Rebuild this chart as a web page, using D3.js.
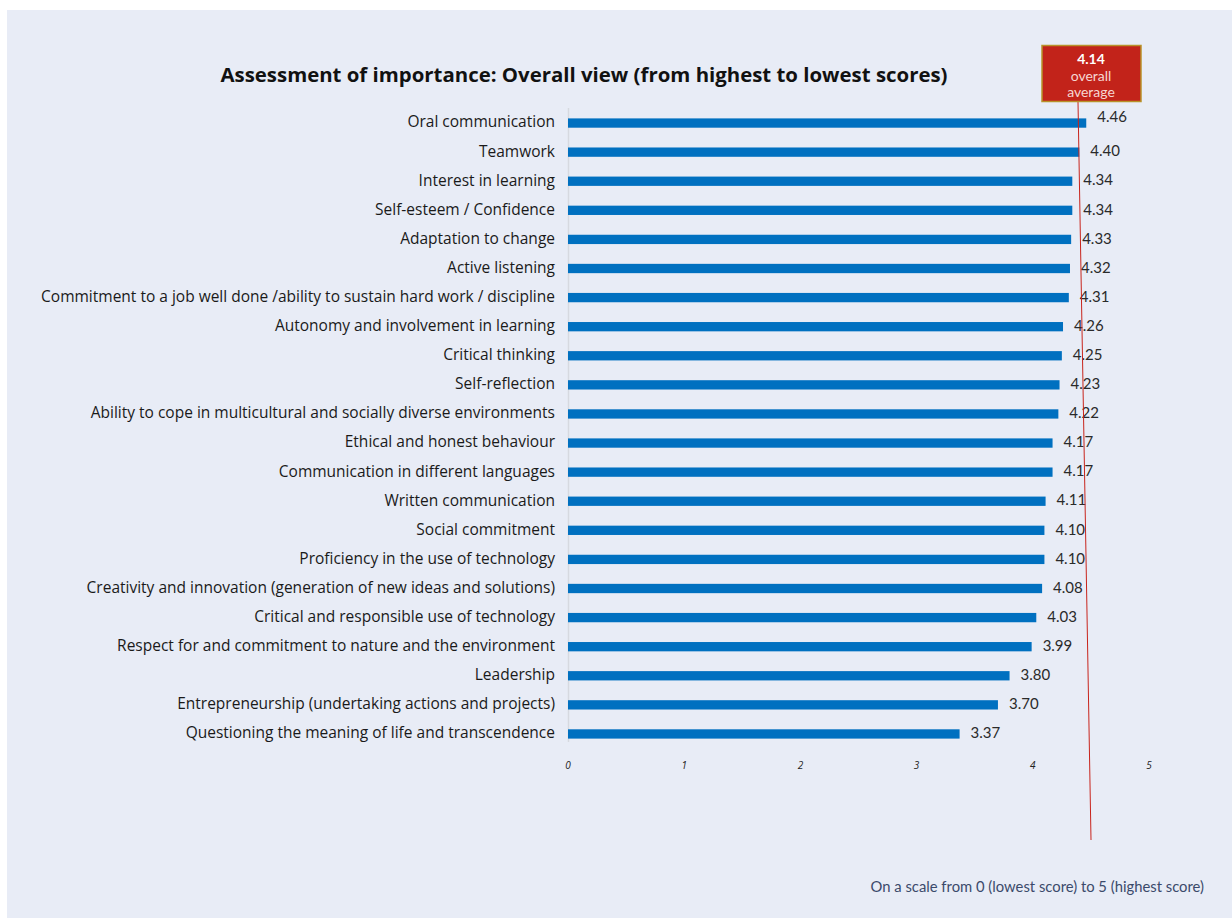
<!DOCTYPE html>
<html>
<head>
<meta charset="utf-8">
<script src="https://cdn.jsdelivr.net/npm/d3@7"></script>
<style>
  body { margin: 0; background: #fff; }
  svg { display: block; }
</style>
</head>
<body>
<div id="chart"></div>
<script>
const skills = [
  'Oral communication', 'Teamwork', 'Interest in learning', 'Self-esteem / Confidence',
  'Adaptation to change', 'Active listening',
  'Commitment to a job well done /ability to sustain hard work / discipline',
  'Autonomy and involvement in learning', 'Critical thinking', 'Self-reflection',
  'Ability to cope in multicultural and socially diverse environments',
  'Ethical and honest behaviour', 'Communication in different languages',
  'Written communication', 'Social commitment', 'Proficiency in the use of technology',
  'Creativity and innovation (generation of new ideas and solutions)',
  'Critical and responsible use of technology',
  'Respect for and commitment to nature and the environment', 'Leadership',
  'Entrepreneurship (undertaking actions and projects)',
  'Questioning the meaning of life and transcendence'
]
const scores = [4.46, 4.40, 4.34, 4.34, 4.33, 4.32, 4.31, 4.26, 4.25, 4.23, 4.22,
  4.17, 4.17, 4.11, 4.10, 4.10, 4.08, 4.03, 3.99, 3.80, 3.70, 3.37]
const xTicks = [0, 1, 2, 3, 4, 5]
const overallAverage = 4.14

const width = 1232
const height = 918

const svg = d3.select('#chart').append('svg')
  .attr('width', width)
  .attr('height', height)

// panel background
svg.append('rect')
  .attr('x', 7).attr('y', 10)
  .attr('width', width - 7).attr('height', height - 10)
  .attr('fill', '#e8ecf6')

const xScale = d3.scaleLinear().domain([0, 5]).range([568, 1149])
const yScale = d3.scaleBand().domain(skills).range([108.5, 748.5]).paddingInner(0.68).paddingOuter(0.34)

// title
svg.append('text')
  .attr('x', 584).attr('y', 82)
  .attr('text-anchor', 'middle')
  .style('font-family', '"Open Sans", sans-serif')
  .style('font-weight', 'bold')
  .style('font-size', '20.4px')
  .attr('fill', '#111')
  .text('Assessment of importance: Overall view (from highest to lowest scores)')

// faint category axis line
svg.append('line')
  .attr('x1', 568.5).attr('x2', 568.5)
  .attr('y1', 108).attr('y2', 742)
  .attr('stroke', '#d6d9e0').attr('stroke-width', 1.5)

// bars
svg.append('g').selectAll('rect')
  .data(skills)
  .enter()
  .append('rect')
  .attr('x', xScale(0))
  .attr('y', d => yScale(d))
  .attr('width', (d, i) => xScale(scores[i]) - xScale(0))
  .attr('height', yScale.bandwidth())
  .attr('fill', '#0070c0')

// category labels
svg.append('g').selectAll('text')
  .data(skills)
  .enter()
  .append('text')
  .attr('x', 555)
  .attr('y', d => yScale(d) + yScale.bandwidth() / 2 - 1)
  .attr('dy', '0.35em')
  .attr('text-anchor', 'end')
  .style('font-family', '"Open Sans", sans-serif')
  .style('font-size', '15.5px')
  .attr('fill', '#1a1a1a')
  .text(d => d)

// value labels
svg.append('g').selectAll('text')
  .data(skills)
  .enter()
  .append('text')
  .attr('x', (d, i) => xScale(scores[i]) + 11)
  .attr('y', (d, i) => yScale(d) + yScale.bandwidth() / 2 - (i === 0 ? 6 : 1))
  .attr('dy', '0.35em')
  .style('font-family', 'Lato, sans-serif')
  .style('font-size', '15px')
  .attr('fill', '#2a2a2a')
  .text((d, i) => scores[i].toFixed(2))

// x tick labels
svg.append('g').selectAll('text')
  .data(xTicks)
  .enter()
  .append('text')
  .attr('x', d => xScale(d))
  .attr('y', 769)
  .attr('text-anchor', 'middle')
  .style('font-family', '"Open Sans", sans-serif')
  .style('font-style', 'italic')
  .style('font-size', '10px')
  .attr('fill', '#222')
  .text(d => d)

// overall average line
svg.append('line')
  .attr('x1', 1078).attr('y1', 102)
  .attr('x2', 1091).attr('y2', 840)
  .attr('stroke', '#c8241c').attr('stroke-width', 1)

// average callout box
const box = svg.append('g')
box.append('rect')
  .attr('x', 1042).attr('y', 45.5)
  .attr('width', 99).attr('height', 56)
  .attr('fill', '#c2231a')
  .attr('stroke', '#b8922a').attr('stroke-width', 1.5)
box.append('text')
  .attr('x', 1091).attr('y', 64)
  .attr('text-anchor', 'middle')
  .style('font-family', 'Lato, sans-serif')
  .style('font-weight', 'bold')
  .style('font-size', '14px')
  .attr('fill', '#fff')
  .text(overallAverage.toFixed(2))
box.append('text')
  .attr('x', 1091).attr('y', 81)
  .attr('text-anchor', 'middle')
  .style('font-family', 'Lato, sans-serif')
  .style('font-size', '14px')
  .attr('fill', '#f6d6d2')
  .text('overall')
box.append('text')
  .attr('x', 1091).attr('y', 97)
  .attr('text-anchor', 'middle')
  .style('font-family', 'Lato, sans-serif')
  .style('font-size', '14px')
  .attr('fill', '#f6d6d2')
  .text('average')

// footnote
svg.append('text')
  .attr('x', 1204).attr('y', 892)
  .attr('text-anchor', 'end')
  .style('font-family', 'Lato, sans-serif')
  .style('font-size', '14.8px')
  .attr('fill', '#3b4a6b')
  .text('On a scale from 0 (lowest score) to 5 (highest score)')
</script>
</body>
</html>
